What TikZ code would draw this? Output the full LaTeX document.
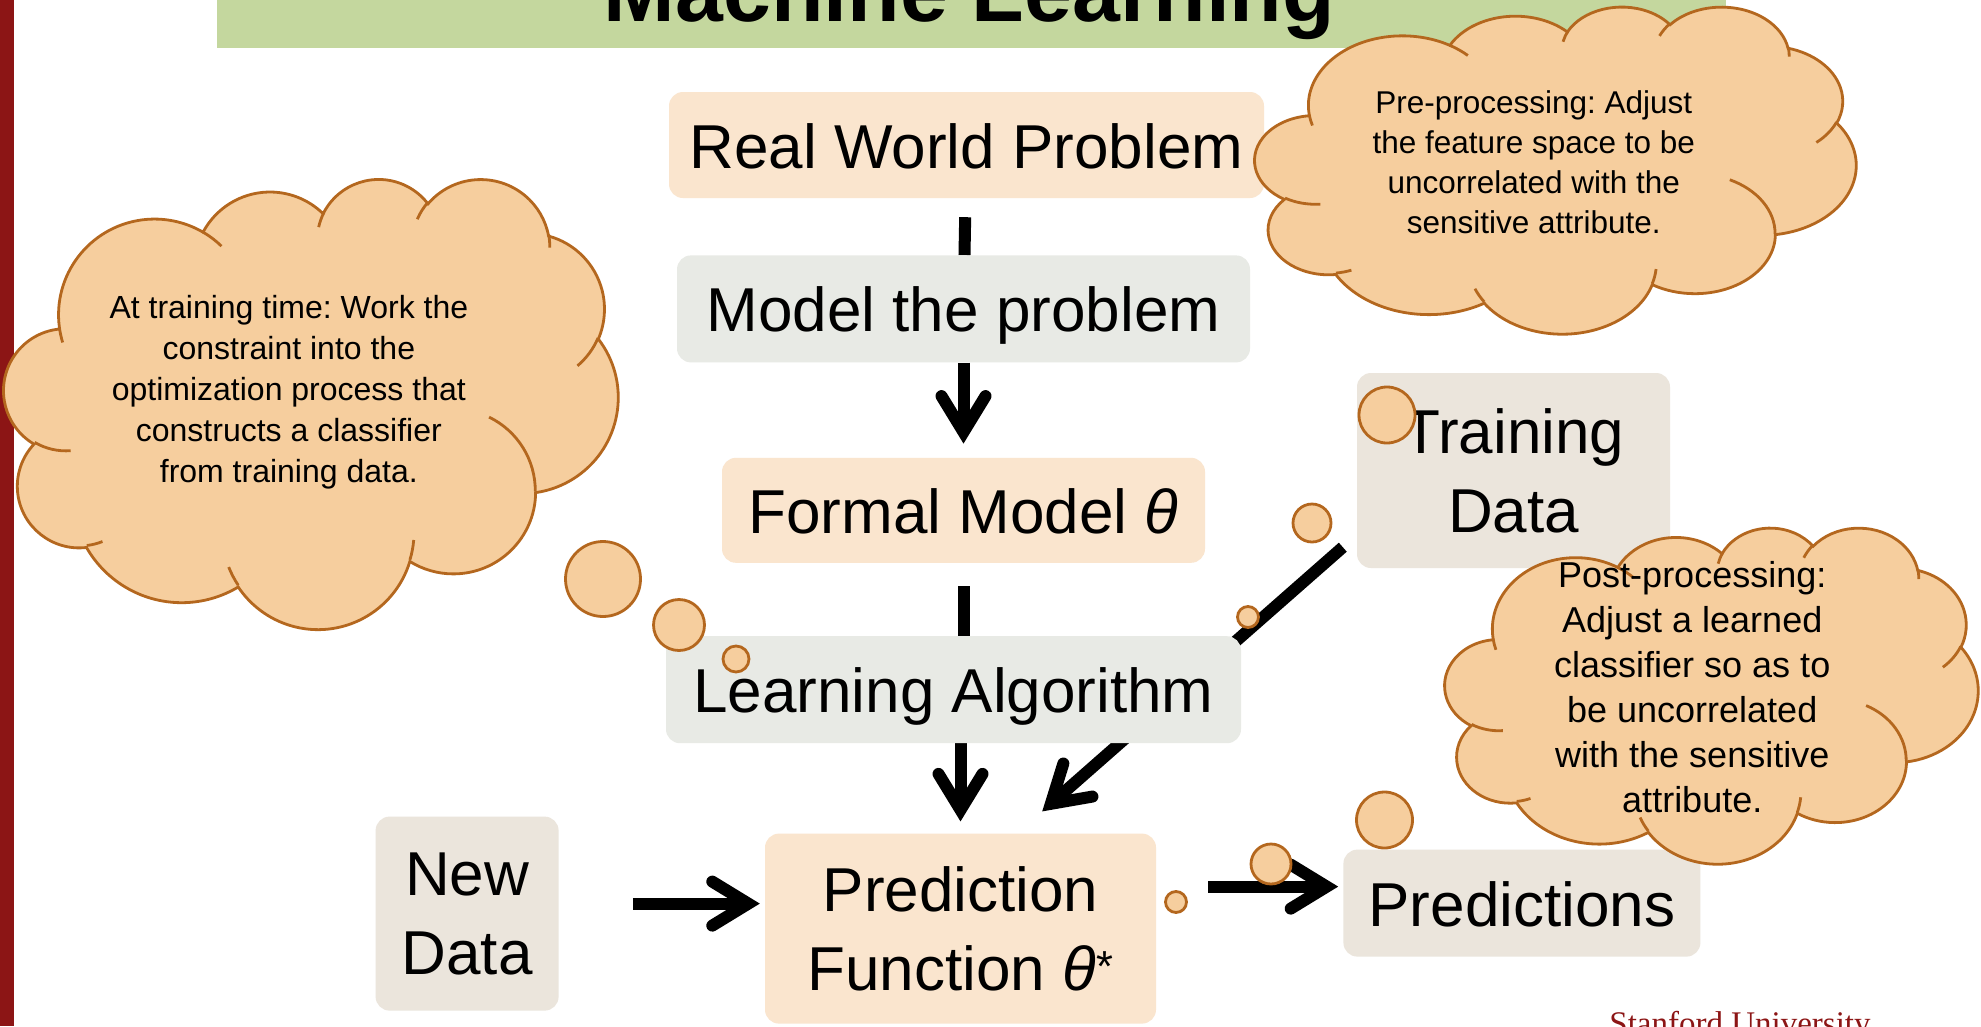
\documentclass[tikz,border=0pt]{standalone}
\usepackage{fontspec}
\setmainfont{Liberation Sans}
\newfontfamily\serifUfont{Liberation Serif}
\usetikzlibrary{arrows.meta, positioning}
\definecolor{peachbox}{RGB}{250,229,206}
\definecolor{greybox}{RGB}{232,234,229}
\definecolor{sandbox}{RGB}{235,229,220}
\definecolor{cloudfill}{RGB}{246,206,158}
\definecolor{cloudedge}{RGB}{180,103,30}
\definecolor{titlegreen}{RGB}{196,215,158}
\definecolor{cardinal}{RGB}{140,21,21}
\pgfdeclarelayer{background}
\pgfsetlayers{background,main}
\frenchspacing

% one puff of the cloud outline (angles as in the slide shape)
\newcommand\cloudarc[4]{%
  \pgfextra{%
    \pgfmathparse{atan2(#1*sin(#3),#2*cos(#3))}\let\clA\pgfmathresult
    \pgfmathparse{atan2(#1*sin(#3+#4),#2*cos(#3+#4))}\let\clB\pgfmathresult
    \pgfmathparse{-1*(\clA)}\xdef\cla{\pgfmathresult}%
    \pgfmathparse{-1*(\clA)-mod((\clB)-(\clA)+720,360)}\xdef\clb{\pgfmathresult}}%
  arc[start angle=\cla, end angle=\clb, x radius=#1pt, y radius=#2pt]}

% thought cloud: [text font]{name}{x}{y}{width}{height}{text}
\newcommand\thoughtcloud[7][]{%
  \begin{scope}[shift={(#3,#4)}, xscale=#5/432, yscale=#6/432]
    \draw[cloudline, fill=cloudfill] (39,143.7)
      \cloudarc{67.53}{91.90}{-190.4875}{123.7805}
      \cloudarc{53.33}{72.67}{-144.1024}{89.9452}
      \cloudarc{43.65}{59.45}{-145.8079}{99.7230}
      \cloudarc{48.57}{65.95}{-130.9861}{117.2417}
      \cloudarc{53.33}{72.73}{-78.7089}{109.0269}
      \cloudarc{67.75}{92.20}{-46.2673}{130.2690}
      \cloudarc{57.85}{78.67}{0.6250}{114.0333}
      \cloudarc{67.52}{92.15}{22.4516}{115.1726}
      \cloudarc{77.20}{105.43}{66.2426}{75.7110}
      \cloudarc{43.60}{59.18}{-274.9421}{146.7356}
      \cloudarc{43.45}{59.45}{-246.8285}{152.5189}
      -- cycle;
    \draw[cloudline]
      (46.93,261.77) \cloudarc{43.45}{59.45}{86.7420}{26.4295}
      (69.28,348.99) \cloudarc{43.60}{59.18}{73.6105}{11.4475}
      (164.78,390.90) \cloudarc{67.52}{92.15}{137.6242}{14.0811}
      (288.27,347.51) \cloudarc{67.52}{92.15}{6.4533}{15.9984}
      (341.29,229.54) \cloudarc{57.85}{78.67}{-70.2924}{70.9174}
      (417.98,153.54) \cloudarc{53.33}{72.73}{30.3180}{27.7515}
      (383.24,54.26) \cloudarc{48.57}{65.95}{-13.7443}{14.8589}
      (290.78,39.52) \cloudarc{48.57}{65.95}{-149.1815}{18.1954}
      (221.41,47.20) \cloudarc{43.65}{59.45}{-163.4943}{17.6864}
      (140.00,51.92) \cloudarc{67.53}{91.90}{-66.7070}{12.3194}
      (41.27,157.89) \cloudarc{67.53}{91.90}{157.6544}{11.8539};
    \node[cloudtext, #1] (#2) at (200.4,206.1) {#7};
  \end{scope}}

\begin{document}
\begin{tikzpicture}[x=1pt, y=-1pt,
    box/.style={rectangle, rounded corners=14pt, inner sep=0pt, align=center,
                font=\fontsize{62pt}{79pt}\selectfont},
    oneline/.style={text height=46pt, text depth=0pt},
    arr/.style={line width=12pt,
                -{Straight Barb[length=36pt, width=44pt, line cap=round, line join=miter]}},
    stub/.style={line width=12pt},
    cloudline/.style={draw=cloudedge, line width=2.8pt},
    cloudtext/.style={align=center, inner sep=0pt},
    bubble/.style={draw=cloudedge, fill=cloudfill, line width=2.8pt}
  ]
  \useasboundingbox (0,0) rectangle (1981,1026);
  \begin{pgfonlayer}{background}
    \fill[white] (0,0) rectangle (1981,1026);
    \fill[cardinal] (0,0) rectangle (14,1026);
    \fill[titlegreen] (217,0) rectangle (1726,48);
  \end{pgfonlayer}
  \node[anchor=base, font=\fontsize{86pt}{90pt}\selectfont\bfseries] (title) at (969.5,21) {Machine Learning};

  % main column
  \node[box, oneline, fill=peachbox, minimum width=595pt, minimum height=106pt] (rwp) at (966.5,145) {Real World Problem};
  \node[box, oneline, fill=greybox, minimum width=573pt, minimum height=107pt, below=57pt of rwp, xshift=-3pt] (model) {Model the problem};
  \node[box, oneline, fill=peachbox, minimum width=483pt, minimum height=105pt, below=95pt of model] (formal) {Formal Model \textit{θ}};
  \node[box, oneline, fill=greybox, minimum width=575pt, minimum height=107pt, below=73pt of formal, xshift=-10pt] (learn) {Learning Algorithm};
  \node[box, fill=peachbox, minimum width=391pt, minimum height=190pt, below=90pt of learn, xshift=7pt] (pf) {Prediction\\Function \textit{θ}\textsuperscript{*}};

  % data boxes
  \node[box, fill=sandbox, minimum width=313pt, minimum height=195pt] (train) at (1513.5,470.5) {Training\\Data};
  \node[box, fill=sandbox, minimum width=183pt, minimum height=194pt, left=206pt of pf, yshift=15pt] (newd) {New\\Data};
  \node[box, oneline, fill=sandbox, minimum width=357pt, minimum height=107pt, right=187pt of pf, yshift=25.5pt] (preds) {Predictions};

  % arrows
  \begin{pgfonlayer}{background}
    \draw[stub, shorten <=19pt] (rwp) -- (model);
    \draw[arr, shorten >=14pt] (model) -- (formal);
    \draw[stub, shorten <=23pt] (formal.south) -- (formal.south |- learn.north);
    \draw[arr, shorten >=12pt] (learn.south -| pf.north) -- (pf.north);
    \draw[arr] ([shift={(-14,-21)}]train.south west) -- ([shift={(-114,-22)}]pf.north east);
    \draw[arr, shorten <=74pt, shorten >=5pt] ([yshift=10pt]newd.east) -- ([yshift=10pt]newd.east -| pf.west);
    \draw[arr, shorten <=52pt, shorten >=5pt] ([yshift=16.5pt]pf.east |- preds.west) -- ([yshift=16.5pt]preds.west);
  \end{pgfonlayer}

  % clouds
  \thoughtcloud[font=\fontsize{32pt}{41pt}\selectfont]{trainnote}{4}{178}{614}{450}{At training time: Work the\\constraint into the\\optimization process that\\constructs a classifier\\from training data.}
  \draw[bubble] (603,579) circle[radius=37.5pt];
  \draw[bubble] (679,625) circle[radius=25.5pt];
  \draw[bubble] (736,659) circle[radius=13pt];

  \thoughtcloud[font=\fontsize{31.5pt}{40pt}\selectfont]{prenote}{1255}{6}{601}{327}{Pre-processing: Adjust\\the feature space to be\\uncorrelated with the\\sensitive attribute.}
  \draw[bubble] (1387,415) circle[radius=28pt];
  \draw[bubble] (1312,523) circle[radius=19pt];
  \draw[bubble] (1248,617) circle[radius=10.5pt];

  \thoughtcloud[font=\fontsize{36pt}{45pt}\selectfont]{postnote}{1445}{527}{533}{336}{Post-processing:\\Adjust a learned\\classifier so as to\\be uncorrelated\\with the sensitive\\attribute.}
  \draw[bubble] (1384.5,820) circle[radius=28pt];
  \draw[bubble] (1271,864) circle[radius=20pt];
  \draw[bubble] (1176,902) circle[radius=10.5pt];

  \node[anchor=base, font=\serifUfont\fontsize{33pt}{36pt}\selectfont, text=cardinal] (stanford) at (1740,1034) {Stanford University};
\end{tikzpicture}
\end{document}
